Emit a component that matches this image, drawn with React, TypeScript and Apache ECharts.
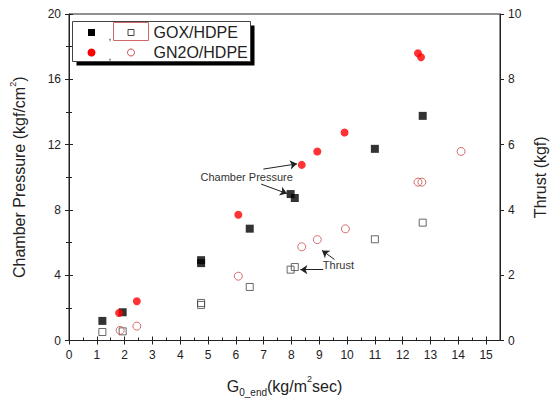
import React, { useEffect, useRef } from "react";
import * as echarts from "echarts";

// ---- Data ----
const goxX = [1.2, 1.93, 4.75, 4.75, 6.5, 7.97, 8.12, 11.0, 12.72];
const goxPressure = [1.2, 1.73, 4.92, 4.74, 6.85, 8.97, 8.73, 11.74, 13.76];
const goxThrust = [0.26, 0.28, 1.15, 1.09, 1.64, 2.17, 2.25, 3.1, 3.61];

const n2oPressureX = [1.8, 2.44, 6.09, 8.37, 8.93, 9.91, 12.55, 12.66];
const n2oPressure = [1.68, 2.4, 7.7, 10.76, 11.58, 12.74, 17.6, 17.35];
const n2oThrustX = [1.84, 2.44, 6.09, 8.37, 8.93, 9.94, 12.55, 12.69, 14.1];
const n2oThrust = [0.31, 0.44, 1.97, 2.87, 3.09, 3.42, 4.85, 4.85, 5.79];

const xTicks = { min: 0, max: 15.5, interval: 1 };
const pressureTicks = { min: 0, max: 20, interval: 4 };
const thrustTicks = { min: 0, max: 10, interval: 2 };

// annotation anchors (data coordinates)
const pressureLabelAt = [6.39, 10.03];
const pressureArrows = [
  [[6.99, 10.5], [8.2, 10.82]],
  [[6.91, 9.58], [7.84, 9.0]],
];
const thrustLabelAt = [9.69, 2.32];
const thrustArrows = [
  [[9.55, 2.48], [9.1, 2.76]],
  [[9.14, 2.17], [8.32, 2.17]],
];

const FONT = "'Liberation Sans', Arial, sans-serif";
const AXIS_COLOR = "#222";

export default function App() {
  const ref = useRef<HTMLDivElement>(null);

  useEffect(() => {
    if (!ref.current) return;
    const chart = echarts.init(ref.current, null, { renderer: "svg" });

    const zip = (xs: number[], ys: number[]) => xs.map((x, i) => [x, ys[i]]);
    const arrowData = (arr: number[][][]) =>
      arr.map(([a, b]) => [{ coord: a }, { coord: b }]);

    const arrowMarkLine = (arr: number[][][]) => ({
      silent: true,
      symbol: ["none", "arrow"],
      symbolSize: 7,
      label: { show: false },
      lineStyle: { color: "#222", width: 1, type: "solid" },
      emphasis: { disabled: true },
      data: arrowData(arr),
    });

    const textMarkPoint = (at: number[], text: string) => ({
      silent: true,
      symbol: "rect",
      symbolSize: 1,
      itemStyle: { color: "rgba(0,0,0,0)" },
      label: {
        show: true,
        position: "inside",
        formatter: text,
        color: "#333",
        fontSize: 11,
        fontFamily: FONT,
      },
      data: [{ coord: at }],
    });

    const tickLabel = { fontSize: 12, color: "#222", fontFamily: FONT };

    const overlayY = (pos: string, t: any) => ({
      type: "value",
      position: pos,
      min: t.min,
      max: t.max,
      interval: t.interval,
      axisLine: { show: false },
      axisLabel: { show: false },
      splitLine: { show: false },
      axisTick: { show: true, inside: true, length: 4, lineStyle: { color: AXIS_COLOR } },
      minorTick: { show: true, splitNumber: 2, length: 3, lineStyle: { color: AXIS_COLOR } },
    });

    const option: any = {
      animation: false,
      backgroundColor: "#fff",
      textStyle: { fontFamily: FONT },
      grid: {
        left: 67,
        right: 60,
        top: 14,
        bottom: 61,
        show: true,
        borderColor: AXIS_COLOR,
        borderWidth: 1,
      },
      xAxis: [
        {
          type: "value",
          min: xTicks.min,
          max: xTicks.max,
          interval: xTicks.interval,
          name: "G{sub|0_end}(kg/m{sup|2}sec)",
          nameLocation: "middle",
          nameGap: 34,
          nameTextStyle: {
            fontSize: 16,
            color: "#222",
            fontFamily: FONT,
            rich: {
              sub: { fontSize: 10, padding: [12, 0, 0, 0], fontFamily: FONT, color: "#222" },
              sup: { fontSize: 9, padding: [0, 0, 14, 0], fontFamily: FONT, color: "#222" },
            },
          },
          axisLine: { show: true, onZero: false, lineStyle: { color: AXIS_COLOR } },
          axisTick: { show: true, inside: false, length: 4, lineStyle: { color: AXIS_COLOR } },
          axisLabel: { ...tickLabel, margin: 8, showMaxLabel: false },
          splitLine: { show: false },
        },
        {
          type: "value",
          position: "bottom",
          min: xTicks.min,
          max: xTicks.max,
          interval: xTicks.interval,
          axisLine: { show: false },
          axisLabel: { show: false },
          splitLine: { show: false },
          axisTick: { show: true, inside: true, length: 4, lineStyle: { color: AXIS_COLOR } },
          minorTick: { show: true, splitNumber: 2, length: 3, lineStyle: { color: AXIS_COLOR } },
        },
      ],
      yAxis: [
        {
          type: "value",
          position: "left",
          min: pressureTicks.min,
          max: pressureTicks.max,
          interval: pressureTicks.interval,
          name: "Chamber Pressure (kgf/cm{sup|2})",
          nameLocation: "middle",
          nameRotate: 90,
          nameGap: 38,
          nameTextStyle: {
            fontSize: 16,
            color: "#222",
            fontFamily: FONT,
            rich: {
              sup: { fontSize: 9, padding: [0, 0, 14, 0], fontFamily: FONT, color: "#222" },
            },
          },
          axisLine: { show: true, onZero: false, lineStyle: { color: AXIS_COLOR } },
          axisTick: { show: true, inside: false, length: 4, lineStyle: { color: AXIS_COLOR } },
          axisLabel: { ...tickLabel, margin: 8 },
          splitLine: { show: false },
        },
        {
          type: "value",
          position: "right",
          min: thrustTicks.min,
          max: thrustTicks.max,
          interval: thrustTicks.interval,
          name: "Thrust (kgf)",
          nameLocation: "middle",
          nameRotate: 90,
          nameGap: 30,
          nameTextStyle: { fontSize: 16, color: "#222", fontFamily: FONT },
          axisLine: { show: true, onZero: false, lineStyle: { color: AXIS_COLOR } },
          axisTick: { show: true, inside: false, length: 4, lineStyle: { color: AXIS_COLOR } },
          axisLabel: { ...tickLabel, margin: 8 },
          splitLine: { show: false },
        },
        overlayY("left", pressureTicks),
        overlayY("right", thrustTicks),
      ],
      series: [
        {
          name: "GOX/HDPE Pc",
          type: "scatter",
          xAxisIndex: 0,
          yAxisIndex: 0,
          symbol: "rect",
          symbolSize: 8,
          itemStyle: { color: "#000" },
          data: zip(goxX, goxPressure),
          markLine: arrowMarkLine(pressureArrows),
          markPoint: textMarkPoint(pressureLabelAt, "Chamber Pressure"),
        },
        {
          name: "GN2O/HDPE Pc",
          type: "scatter",
          xAxisIndex: 0,
          yAxisIndex: 0,
          symbol: "circle",
          symbolSize: 8,
          itemStyle: { color: "#ff0000" },
          data: zip(n2oPressureX, n2oPressure),
        },
        {
          name: "GOX/HDPE Thrust",
          type: "scatter",
          xAxisIndex: 0,
          yAxisIndex: 1,
          symbol: "rect",
          symbolSize: 7,
          itemStyle: { color: "rgba(255,255,255,0)", borderColor: "#444", borderWidth: 1 },
          data: zip(goxX, goxThrust),
          markLine: arrowMarkLine(thrustArrows),
          markPoint: textMarkPoint(thrustLabelAt, "Thrust"),
        },
        {
          name: "GN2O/HDPE Thrust",
          type: "scatter",
          xAxisIndex: 0,
          yAxisIndex: 1,
          symbol: "circle",
          symbolSize: 8,
          itemStyle: { color: "rgba(255,255,255,0)", borderColor: "#cc4b4b", borderWidth: 1 },
          data: zip(n2oThrustX, n2oThrust),
        },
      ],
      graphic: [
        {
          type: "group",
          left: 72,
          top: 20,
          children: [
            { type: "rect", shape: { x: 4, y: 4, width: 178, height: 40 }, style: { fill: "#000" } },
            {
              type: "rect",
              shape: { x: 0, y: 0, width: 178, height: 40 },
              style: { fill: "#fff", stroke: "#444", lineWidth: 1 },
            },
            { type: "rect", shape: { x: 15.5, y: 7.5, width: 7, height: 7 }, style: { fill: "#000" } },
            {
              type: "text",
              style: { x: 36, y: 10, text: ",", fontSize: 10, fill: "#222", fontFamily: FONT },
            },
            {
              type: "rect",
              shape: { x: 41, y: 1, width: 35, height: 18 },
              style: { fill: "none", stroke: "#d06a6a", lineWidth: 1 },
            },
            {
              type: "rect",
              shape: { x: 55.5, y: 8, width: 6, height: 6 },
              style: { fill: "#fff", stroke: "#444", lineWidth: 1 },
            },
            {
              type: "text",
              style: {
                x: 81,
                y: 11,
                text: "GOX/HDPE",
                fontSize: 16,
                fill: "#222",
                fontFamily: FONT,
                verticalAlign: "middle",
              },
            },
            { type: "circle", shape: { cx: 19, cy: 31, r: 4 }, style: { fill: "#ff0000" } },
            {
              type: "text",
              style: { x: 36, y: 30, text: ",", fontSize: 10, fill: "#222", fontFamily: FONT },
            },
            {
              type: "circle",
              shape: { cx: 58.5, cy: 31, r: 3.5 },
              style: { fill: "#fff", stroke: "#cc4b4b", lineWidth: 1 },
            },
            {
              type: "text",
              style: {
                x: 81,
                y: 31,
                text: "GN2O/HDPE",
                fontSize: 16,
                fill: "#222",
                fontFamily: FONT,
                verticalAlign: "middle",
              },
            },
          ],
        },
      ],
    };

    chart.setOption(option);
    return () => chart.dispose();
  }, []);

  return (
    <div
      ref={ref}
      style={{ position: "absolute", left: 0, top: 0, width: 560, height: 402, background: "#fff" }}
    />
  );
}
